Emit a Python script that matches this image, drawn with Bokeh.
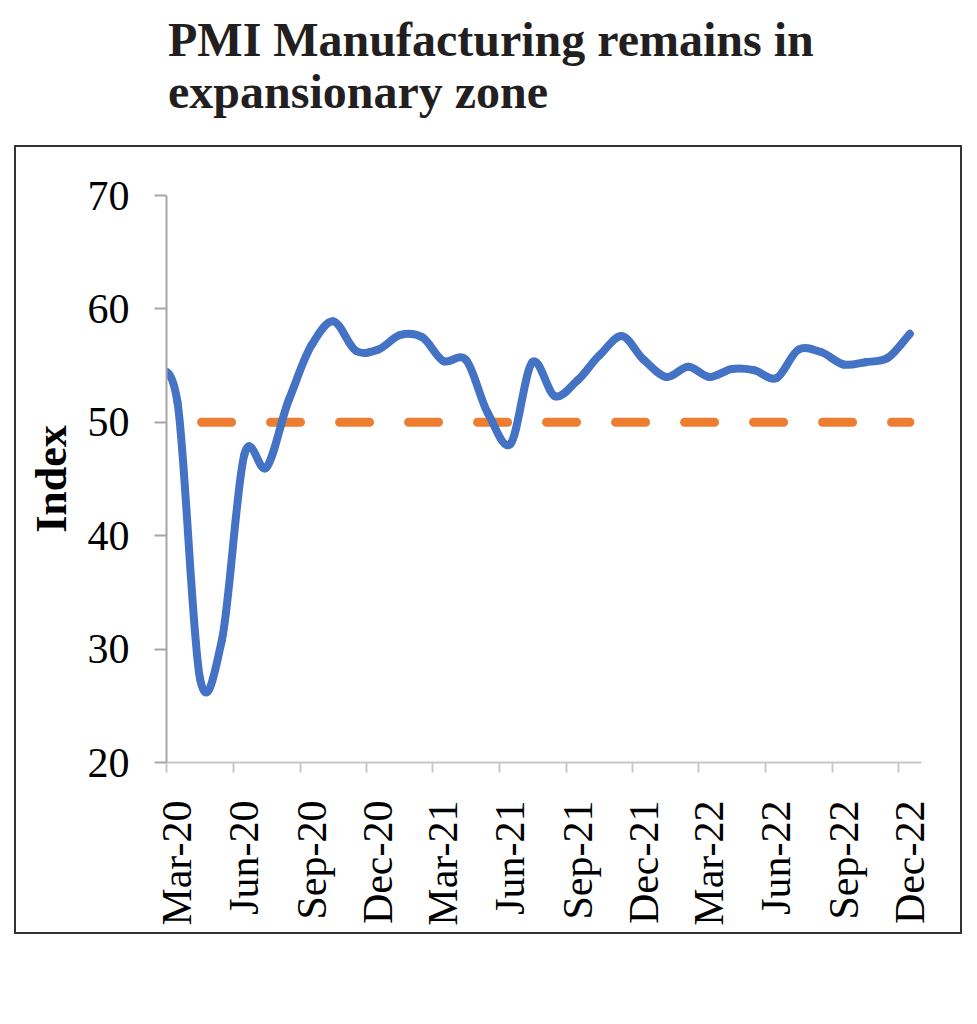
import math
import datetime as dt
from bokeh.plotting import figure
from bokeh.models import Range1d, FixedTicker, Div
from bokeh.layouts import column
from bokeh.embed import file_html
from bokeh.resources import INLINE

# ---------------- data ----------------
months = ["2020-02", "2020-03", "2020-04", "2020-05", "2020-06", "2020-07", "2020-08",
          "2020-09", "2020-10", "2020-11", "2020-12",
          "2021-01", "2021-02", "2021-03", "2021-04", "2021-05", "2021-06", "2021-07",
          "2021-08", "2021-09", "2021-10", "2021-11", "2021-12",
          "2022-01", "2022-02", "2022-03", "2022-04", "2022-05", "2022-06", "2022-07",
          "2022-08", "2022-09", "2022-10", "2022-11", "2022-12"]
pmi = [54.5, 51.8, 27.4, 30.8, 47.2, 46.0, 52.0, 56.8, 58.9, 56.3, 56.4,
       57.7, 57.5, 55.4, 55.5, 50.8, 48.1, 55.3, 52.3, 53.7, 55.9, 57.6, 55.5,
       54.0, 54.9, 54.0, 54.7, 54.6, 53.9, 56.4, 56.2, 55.1, 55.3, 55.7, 57.8]
threshold = [50.0] * len(months)
tick_months = ["2020-03", "2020-06", "2020-09", "2020-12", "2021-03", "2021-06",
               "2021-09", "2021-12", "2022-03", "2022-06", "2022-09", "2022-12"]
tick_labels = ["Mar-20", "Jun-20", "Sep-20", "Dec-20", "Mar-21", "Jun-21",
               "Sep-21", "Dec-21", "Mar-22", "Jun-22", "Sep-22", "Dec-22"]
y_ticks = [20, 30, 40, 50, 60, 70]

EPOCH = dt.date(2020, 1, 1)


def month_start(m):
    y, mo = map(int, m.split("-"))
    return (dt.date(y, mo, 1) - EPOCH).days


def month_mid(m):
    y, mo = map(int, m.split("-"))
    start = dt.date(y, mo, 1)
    nxt = dt.date(y + (mo == 12), mo % 12 + 1, 1)
    return (start - EPOCH).days + (nxt - start).days // 2


xs = [month_mid(m) for m in months]
label_x = [month_mid(m) for m in tick_months]
minor_x = [month_start(m) for m in tick_months]
x_start = month_start("2020-03")
x_end = (dt.date(2023, 1, 1) - EPOCH).days

# ---------------- figure ----------------
p = figure(width=948, height=789, x_range=Range1d(x_start, x_end), y_range=Range1d(20, 70),
           output_backend="svg", toolbar_location=None,
           min_border_left=150, min_border_right=43, min_border_top=48, min_border_bottom=174)
p.styles = {"border": "2px solid #333333", "transform": "translate(14px, -2px)"}
p.outline_line_color = None
p.xgrid.visible = False
p.ygrid.visible = False
p.background_fill_color = "white"
p.border_fill_color = "white"

# threshold dashed line
p.line(xs, threshold, line_color="#ED7D31", line_width=9, line_dash="30 39",
       line_dash_offset=23, line_cap="round")

# smoothed PMI line (Bezier segments through the data points)
TENSION = 0.9
n = len(xs)
x0, y0, x1, y1, cx0, cy0, cx1, cy1 = [], [], [], [], [], [], [], []
for i in range(n - 1):
    ip = max(i - 1, 0)
    inn = min(i + 2, n - 1)
    x0.append(xs[i]); y0.append(pmi[i])
    x1.append(xs[i + 1]); y1.append(pmi[i + 1])
    cx0.append(xs[i] + (xs[i + 1] - xs[ip]) / 6.0)
    cy0.append(pmi[i] + TENSION * (pmi[i + 1] - pmi[ip]) / 6.0)
    cx1.append(xs[i + 1] - (xs[inn] - xs[i]) / 6.0)
    cy1.append(pmi[i + 1] - TENSION * (pmi[inn] - pmi[i]) / 6.0)
p.bezier(x0=x0, y0=y0, x1=x1, y1=y1, cx0=cx0, cy0=cy0, cx1=cx1, cy1=cy1,
         line_color="#4472C4", line_width=8, line_cap="round")

# y axis
ya = p.yaxis[0]
ya.ticker = FixedTicker(ticks=y_ticks)
ya.axis_line_color = "#A6A6A6"
ya.axis_line_width = 2
ya.major_tick_line_color = "#A6A6A6"
ya.major_tick_line_width = 2
ya.major_tick_out = 12
ya.major_tick_in = 0
ya.minor_tick_line_color = None
ya.major_label_standoff = 25
ya.major_label_text_font = "Liberation Serif"
ya.major_label_text_font_size = "42px"
ya.major_label_text_color = "#000000"
ya.axis_label = "Index"
ya.axis_label_text_font = "Liberation Serif"
ya.axis_label_text_font_style = "bold"
ya.axis_label_text_font_size = "44px"
ya.axis_label_text_color = "#000000"
ya.axis_label_standoff = 9

# x axis
xa = p.xaxis[0]
xa.ticker = FixedTicker(ticks=label_x, minor_ticks=minor_x)
xa.major_label_overrides = {int(v): lab for v, lab in zip(label_x, tick_labels)}
xa.axis_line_color = "#C8C8C8"
xa.axis_line_width = 2
xa.major_tick_line_color = None
xa.major_tick_out = 0
xa.major_tick_in = 0
xa.minor_tick_line_color = "#C8C8C8"
xa.minor_tick_line_width = 2
xa.minor_tick_out = 10
xa.minor_tick_in = 0
xa.major_label_orientation = math.pi / 2
xa.major_label_standoff = 28
xa.major_label_text_font = "Liberation Serif"
xa.major_label_text_font_size = "42px"
xa.major_label_text_color = "#000000"

title = Div(text=('<div style="font-family:\'Liberation Serif\';font-weight:bold;'
                  'font-size:48px;line-height:52px;color:#231F20;'
                  'padding-left:163px;padding-top:9px;white-space:nowrap;">'
                  'PMI Manufacturing remains in<br>expansionary zone</div>'),
            width=961, height=137)

layout = column(title, p, spacing=0)
open("out.html", "w").write(file_html(layout, INLINE))
